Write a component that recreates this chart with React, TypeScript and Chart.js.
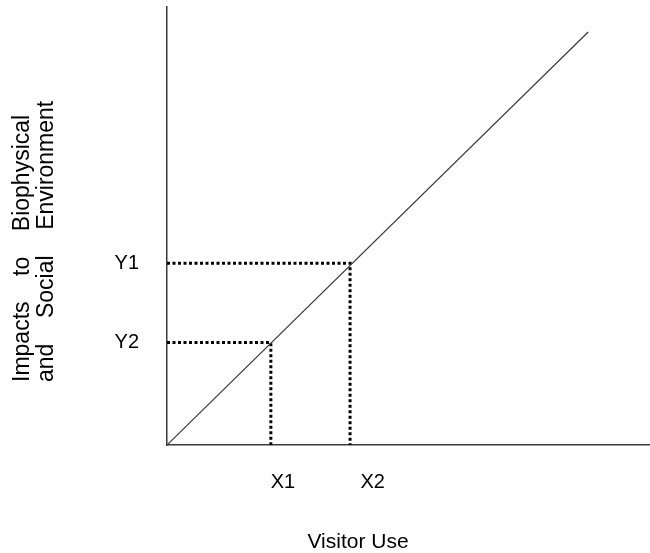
import React, { useEffect, useRef } from "react";
import { Chart, registerables } from "chart.js";

Chart.register(...registerables);

// ---- data ----
const diagonalX = [0, 87.2];
const diagonalY = [0, 94.3];
const guideX = [21.5, 37.9]; // X1, X2 (visitor use levels)
const guideY = [23.4, 41.5]; // Y2, Y1 (impact levels)
const xTickLabels = ["X1", "X2"];
const xLabelValues = [24.0, 42.6];
const yTickLabels = ["Y2", "Y1"];
const yLabelValues = [23.4, 41.5];
const xTitle = "Visitor Use";
const yTitleLines = ["Impacts    to    Biophysical", "and    Social    Environment"];

const FONT_FAMILY = '"Liberation Sans", Arial, Helvetica, sans-serif';
const AXIS_COLOR = "#3a3a3a";

const titlePlugin = {
  id: "axisTitlesCustom",
  afterDraw(chart: any) {
    const ctx = chart.ctx as CanvasRenderingContext2D;
    ctx.save();
    ctx.fillStyle = "#000";
    ctx.font = `21px ${FONT_FAMILY}`;
    ctx.textAlign = "center";
    ctx.textBaseline = "middle";
    ctx.fillText(xTitle, 358, 542);
    ctx.font = `23px ${FONT_FAMILY}`;
    ctx.textAlign = "left";
    ctx.textBaseline = "alphabetic";
    const xs = [29, 53];
    yTitleLines.forEach((line, i) => {
      ctx.save();
      ctx.translate(xs[i], 382);
      ctx.rotate(-Math.PI / 2);
      ctx.fillText(line, 0, 0);
      ctx.restore();
    });
    ctx.restore();
  },
};

export default function App() {
  const canvasRef = useRef<HTMLCanvasElement | null>(null);

  useEffect(() => {
    const canvas = canvasRef.current;
    if (!canvas) return;

    const datasets: any[] = [
      {
        data: diagonalX.map((x, i) => ({ x, y: diagonalY[i] })),
        borderColor: AXIS_COLOR,
        borderWidth: 1.2,
        pointRadius: 0,
        showLine: true,
      },
    ];
    guideX.forEach((gx, i) => {
      datasets.push({
        data: [
          { x: 0, y: guideY[i] },
          { x: gx, y: guideY[i] },
          { x: gx, y: 0 },
        ],
        borderColor: "#000",
        borderWidth: 3,
        borderDash: [3, 2.5],
        pointRadius: 0,
        showLine: true,
      });
    });

    const chart = new Chart(canvas, {
      type: "scatter",
      data: { datasets },
      options: {
        animation: false,
        responsive: false,
        layout: { padding: { top: 7, right: 0, left: 0, bottom: 0 } },
        plugins: { legend: { display: false }, tooltip: { enabled: false } },
        scales: {
          x: {
            type: "linear",
            min: 0,
            max: 100,
            grid: { display: false, drawTicks: false },
            border: { display: true, color: AXIS_COLOR, width: 1.5 },
            ticks: {
              autoSkip: false,
              maxRotation: 0,
              padding: 25,
              color: "#000",
              font: { size: 20, family: FONT_FAMILY },
              callback: (_v: any, index: number) => xTickLabels[index],
            },
            afterBuildTicks: (scale: any) => {
              scale.ticks = xLabelValues.map((v) => ({ value: v }));
            },
            afterFit: (scale: any) => {
              scale.height = 108;
              scale.paddingLeft = 0;
              scale.paddingRight = 0;
            },
          },
          y: {
            type: "linear",
            min: 0,
            max: 100,
            grid: { display: false, drawTicks: false },
            border: { display: true, color: AXIS_COLOR, width: 1.5 },
            ticks: {
              autoSkip: false,
              padding: 28,
              color: "#000",
              font: { size: 20, family: FONT_FAMILY },
              callback: (_v: any, index: number) => yTickLabels[index],
            },
            afterBuildTicks: (scale: any) => {
              scale.ticks = yLabelValues.map((v) => ({ value: v }));
            },
            afterFit: (scale: any) => {
              scale.width = 167;
              scale.paddingTop = 0;
              scale.paddingBottom = 0;
            },
          },
        },
      } as any,
      plugins: [titlePlugin],
    });

    return () => chart.destroy();
  }, []);

  return (
    <div style={{ position: "fixed", left: 0, top: 0, width: 650, height: 553, background: "#fff" }}>
      <canvas ref={canvasRef} width={650} height={553} />
    </div>
  );
}
